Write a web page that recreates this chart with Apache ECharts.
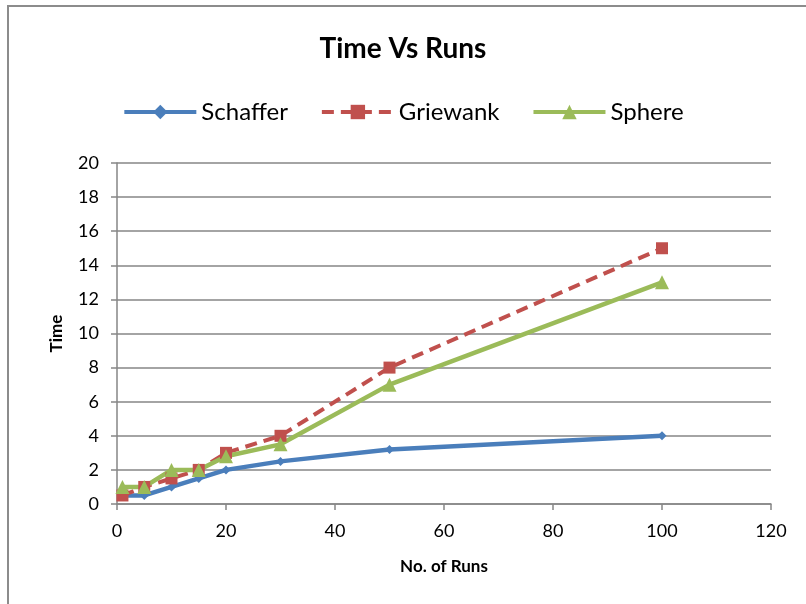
<!DOCTYPE html>
<html>
<head>
<meta charset="utf-8">
<style>
  html, body { margin: 0; padding: 0; background: #fff; }
  #chart { width: 806px; height: 604px; }
</style>
<script src="https://cdn.jsdelivr.net/npm/echarts@6/dist/echarts.min.js"></script>
</head>
<body>
<div id="chart"></div>
<script>
// Number of runs and measured time per test function
const runs = [1, 5, 10, 15, 20, 30, 50, 100];
const schaffer = [0.5, 0.5, 1, 1.5, 2, 2.5, 3.2, 4];
const griewank = [0.5, 1, 1.5, 2, 3, 4, 8, 15];
const sphere = [1, 1, 2, 2, 2.8, 3.5, 7, 13];
const seriesNames = ['Schaffer', 'Griewank', 'Sphere'];
const xTicks = { min: 0, max: 120, step: 20 };
const yTicks = { min: 0, max: 20, step: 2 };

const FONT = 'Lato, "Open Sans", sans-serif';
const AXIS_GRAY = '#868686';

const pairs = (ys) => runs.map((x, i) => [x, ys[i]]);

const chart = echarts.init(document.getElementById('chart'));
chart.setOption({
  backgroundColor: '#fff',
  animation: false,
  graphic: [{
    type: 'rect',
    shape: { x: 8, y: 6, width: 900, height: 700 },
    style: { fill: 'none', stroke: '#8c8c8c', lineWidth: 2 },
    silent: true
  }],
  title: {
    text: 'Time Vs Runs',
    left: 'center',
    top: 30,
    textStyle: { fontFamily: FONT, fontSize: 28, fontWeight: 'bold', color: '#000' }
  },
  legend: {
    top: 95,
    left: 'center',
    itemWidth: 72,
    itemHeight: 18,
    itemGap: 32,
    textStyle: { fontFamily: FONT, fontSize: 24, color: '#000' },
    lineStyle: { width: 4 },
    data: seriesNames
  },
  grid: { left: 117, right: 35, top: 163, bottom: 100, containLabel: false },
  xAxis: {
    type: 'value',
    min: xTicks.min, max: xTicks.max, interval: xTicks.step,
    name: 'No. of Runs',
    nameLocation: 'middle',
    nameGap: 54,
    nameTextStyle: { fontFamily: FONT, fontSize: 17, fontWeight: 'bold', color: '#000' },
    axisLine: { lineStyle: { color: AXIS_GRAY, width: 1.5 } },
    axisTick: { show: true, length: 6, lineStyle: { color: AXIS_GRAY, width: 1.5 } },
    axisLabel: { fontFamily: FONT, fontSize: 18, color: '#000', margin: 18 },
    splitLine: { show: false }
  },
  yAxis: {
    type: 'value',
    min: yTicks.min, max: yTicks.max, interval: yTicks.step,
    name: 'Time',
    nameLocation: 'middle',
    nameGap: 52,
    nameRotate: 90,
    nameTextStyle: { fontFamily: FONT, fontSize: 17, fontWeight: 'bold', color: '#000' },
    axisLine: { show: true, lineStyle: { color: AXIS_GRAY, width: 1.5 } },
    axisTick: { show: true, length: 6, lineStyle: { color: AXIS_GRAY, width: 1.5 } },
    axisLabel: { fontFamily: FONT, fontSize: 18, color: '#000', margin: 18 },
    splitLine: { show: true, lineStyle: { color: AXIS_GRAY, width: 1.5 } }
  },
  series: [
    {
      name: seriesNames[0],
      type: 'line',
      data: pairs(schaffer),
      symbol: 'diamond',
      symbolSize: 9,
      color: '#4a7ebb',
      lineStyle: { width: 4.5, color: '#4a7ebb' },
      itemStyle: { color: '#4a7ebb' }
    },
    {
      name: seriesNames[1],
      type: 'line',
      data: pairs(griewank),
      symbol: 'rect',
      symbolSize: 12,
      color: '#c0504d',
      lineStyle: { width: 4, color: '#c0504d', type: [12, 7] },
      itemStyle: { color: '#c0504d' }
    },
    {
      name: seriesNames[2],
      type: 'line',
      data: pairs(sphere),
      symbol: 'triangle',
      symbolSize: 14,
      color: '#9bbb59',
      lineStyle: { width: 4.5, color: '#9bbb59' },
      itemStyle: { color: '#9bbb59' }
    }
  ]
});
</script>
</body>
</html>
